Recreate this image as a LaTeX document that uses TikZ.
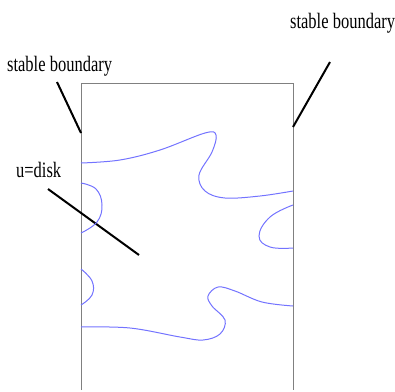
\documentclass[tikz,border=0pt]{standalone}
\usepackage{fontspec}
\setmainfont{Liberation Serif}
\usepackage{tikz}
\usetikzlibrary{positioning}

\begin{document}
\begin{tikzpicture}[x=1pt, y=-1pt,
    label/.style={font=\fontsize{22}{22}\selectfont, inner sep=0pt, xscale=0.75, transform shape, anchor=base west},
    pointer/.style={line width=2pt, black},
    frame/.style={draw=gray, line width=1pt},
    wave/.style={draw=blue!55, line width=1pt}]
\useasboundingbox (0,0) rectangle (395,391);
% region
\draw[frame] (81,390) -- (81,83) -- (293,83) -- (293,390);
% labels
\node[label] (leftlbl) at (7,71) {stable boundary};
\node[label] (rightlbl) at (290,28) {stable boundary};
\node[label] (disklbl) at (16,177) {u=disk};
\coordinate (leftA) at (57,82);
\coordinate (leftB) at (81,133);
\coordinate (rightA) at (330,62);
\coordinate (rightB) at (293,127);
\coordinate (diskA) at (48,189);
\coordinate (diskB) at (139,255);
\draw[pointer] (leftA) -- (leftB);
\draw[pointer] (rightA) -- (rightB);
\draw[pointer] (diskA) -- (diskB);
% blue curves
\draw[wave] plot[smooth, tension=0.6] coordinates {(81,163) (120,160) (160,150) (205,133) (216,135) (212,152) (199,175) (205,191) (225,198) (260,196) (293,191)};
\draw[wave] plot[smooth, tension=0.7] coordinates {(81,183) (96,189) (102,205) (97,222) (81,233)};
\draw[wave] plot[smooth, tension=0.7] coordinates {(293,205) (270,217) (259,236) (270,247) (293,248)};
\draw[wave] plot[smooth, tension=0.7] coordinates {(81,269) (92,281) (92,295) (81,305)};
\draw[wave] plot[smooth, tension=0.6] coordinates {(81,327) (130,328) (180,337) (203,340) (220,334) (225,320) (212,306) (208,296) (218,287) (235,291) (262,302) (293,306)};
\end{tikzpicture}
\end{document}
